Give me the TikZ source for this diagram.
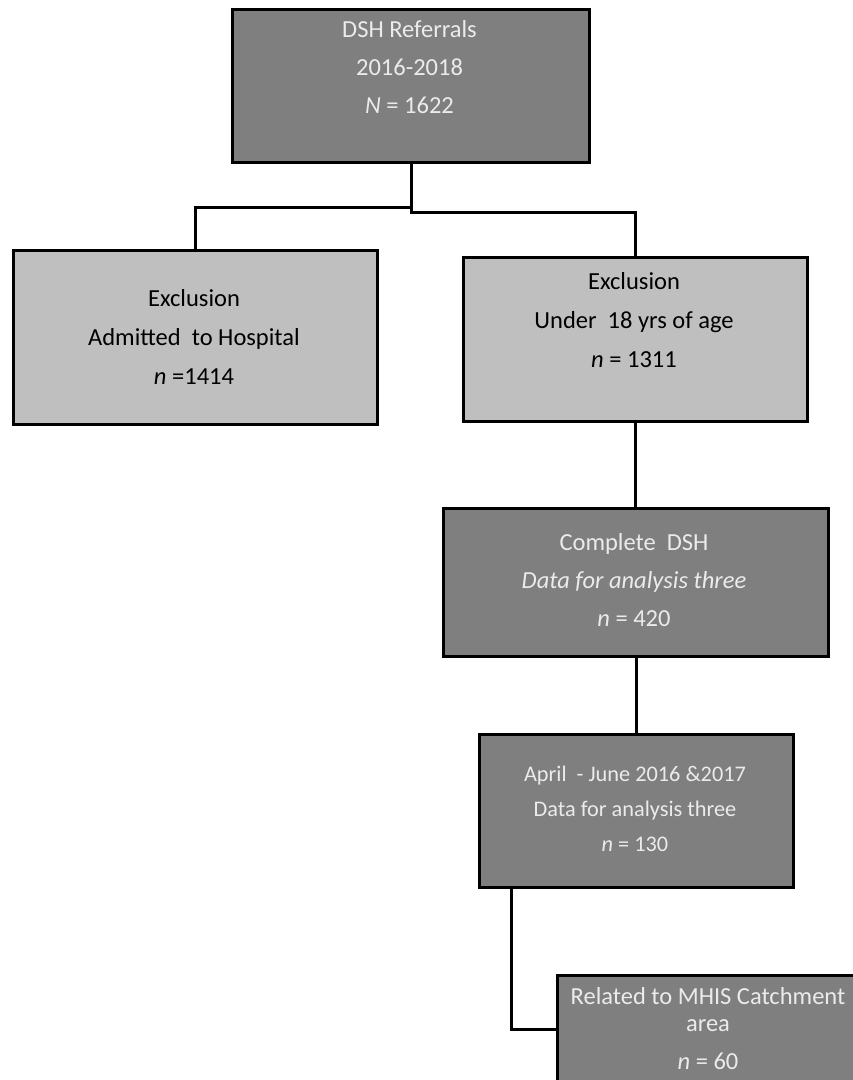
\documentclass[tikz,border=0pt]{standalone}
\usepackage{fontspec}
\setmainfont{Carlito}
\definecolor{darkbox}{HTML}{7F7F7F}
\definecolor{lightbox}{HTML}{BFBFBF}
\definecolor{paletext}{HTML}{EBEBEB}
\tikzset{
  boxd/.style={draw=black, line width=3.2pt, fill=darkbox, anchor=north west, inner sep=0pt},
  boxl/.style={draw=black, line width=3.2pt, fill=lightbox, anchor=north west, inner sep=0pt},
  txtd/.style={text=paletext, align=center, font=\fontsize{24.5}{38}\selectfont, inner sep=0pt},
  txtl/.style={text=black, align=center, font=\fontsize{24.5}{39}\selectfont, inner sep=0pt},
  conn/.style={draw=black, line width=3pt},
}
\begin{document}
\begin{tikzpicture}[x=1pt,y=-1pt]
\useasboundingbox (0,0) rectangle (853,1080);
\clip (0,0) rectangle (853,1080);
\fill[white] (0,0) rectangle (853,1080);
% boxes
\node[boxd, minimum width=357pt, minimum height=153pt] (b1) at (231,8) {};
\node[boxl, minimum width=364pt, minimum height=174pt] (b2) at (12,249) {};
\node[boxl, minimum width=344pt, minimum height=164pt] (b3) at (462,256) {};
\node[boxd, minimum width=385pt, minimum height=148pt] (b4) at (442,507) {};
\node[boxd, minimum width=314pt, minimum height=153pt] (b5) at (478,733) {};
\node[boxd, minimum width=304pt, minimum height=108pt] (b6) at (556,974) {};
% texts
\node[txtd] (t1) at (409.5,67) {DSH Referrals\\2016-2018\\\textit{N} = 1622};
\node[txtl] (t2) at (194,337) {Exclusion\\Admitted\ \ to Hospital\\\textit{n} =1414};
\node[txtl] (t3) at (634,320) {Exclusion\\Under\ \ 18 yrs of age\\\textit{n} = 1311};
\node[txtd] (t4) at (634,580) {Complete\ \ DSH\\\textit{Data for analysis three}\\\textit{n} = 420};
\node[txtd, font=\fontsize{22.3}{35}\selectfont] (t5) at (635,809) {April\ \ - June 2016 \&2017\\Data for analysis three\\\textit{n} = 130};
\node[txtd, font=\fontsize{24.5}{27}\selectfont] (t6) at (708,1009.5) {Related to MHIS Catchment\\area};
\node[txtd] (t6b) at (708,1061) {\textit{n} = 60};
% connectors
\coordinate (split) at (b1.south |- 0,212);
\coordinate (splitl) at (b1.south |- 0,207);
\draw[conn] (b1.south) -- (split) -| (b3.north);
\draw[conn] (splitl) -| (b2.north);
\draw[conn] (b3.south) -- (b3.south |- b4.north);
\draw[conn] (b4.south) -- (b4.south |- b5.north);
\draw[conn] ([xshift=-125pt]b5.south) |- (b6.west);
\end{tikzpicture}
\end{document}
